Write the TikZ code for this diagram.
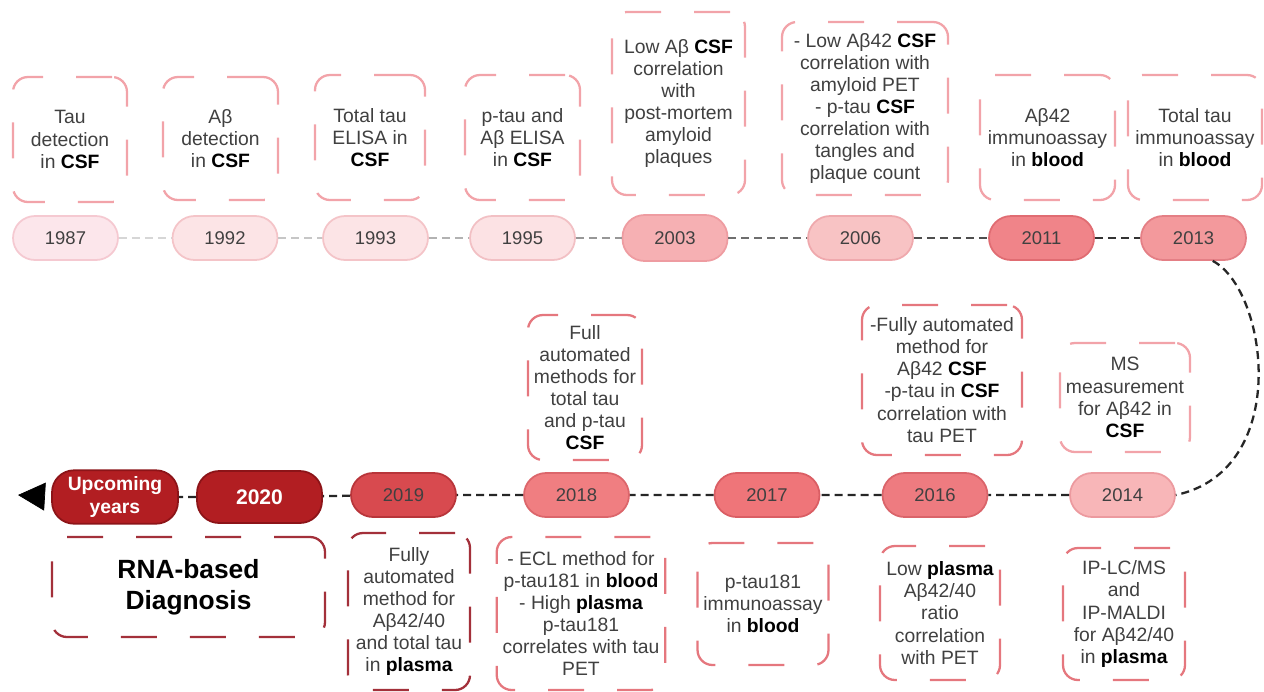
\documentclass[tikz,border=0pt]{standalone}
\usepackage{fontspec}
\setmainfont{Liberation Sans}
\usetikzlibrary{arrows.meta}
\definecolor{ink}{HTML}{404040}
\definecolor{boxpink}{HTML}{F2A3A9}
\definecolor{boxred}{HTML}{E5777E}
\definecolor{boxdark}{HTML}{A3303A}
% pill fills and rims
\definecolor{f1987}{HTML}{FCE6EB}\definecolor{r1987}{HTML}{F5C9D1}
\definecolor{f1992}{HTML}{FCE4E6}\definecolor{r1992}{HTML}{F4C4C8}
\definecolor{f1995}{HTML}{FCE2E4}\definecolor{r1995}{HTML}{F2C0C4}
\definecolor{f2003}{HTML}{F6B0B3}\definecolor{r2003}{HTML}{EE9CA1}
\definecolor{f2006}{HTML}{F8C3C4}\definecolor{r2006}{HTML}{EFA9AD}
\definecolor{f2011}{HTML}{F08489}\definecolor{r2011}{HTML}{E06C72}
\definecolor{f2013}{HTML}{F3999C}\definecolor{r2013}{HTML}{E47F85}
\definecolor{f2014}{HTML}{F8B6B8}\definecolor{r2014}{HTML}{EC9A9F}
\definecolor{f2016}{HTML}{EE7B80}\definecolor{r2016}{HTML}{DA646A}
\definecolor{f2017}{HTML}{EF7579}\definecolor{r2017}{HTML}{DA5E64}
\definecolor{f2018}{HTML}{F07E81}\definecolor{r2018}{HTML}{DC666B}
\definecolor{f2019}{HTML}{D84A4F}\definecolor{r2019}{HTML}{B8353A}
\definecolor{f2020}{HTML}{B21E22}\definecolor{r2020}{HTML}{8C1418}
% dashes of the time line
\definecolor{g1}{HTML}{D6D6D6}\definecolor{g2}{HTML}{C6C6C6}
\definecolor{g3}{HTML}{B2B2B2}\definecolor{g4}{HTML}{979797}
\definecolor{g5}{HTML}{6E6E6E}\definecolor{g6}{HTML}{4E4E4E}
\definecolor{g7}{HTML}{333333}\definecolor{g8}{HTML}{262626}
\newcommand{\bword}[1]{\textbf{\color{black}#1}}
\tikzset{
  pill/.style={draw=r#1, fill=f#1, line width=1pt, rounded corners=0.44cm,
    minimum width=2.1cm, minimum height=0.88cm, text=ink,
    font=\fontsize{10.5}{12}\selectfont},
  note/.style={draw=#1, line width=1.3pt, dash pattern=on 0.72cm off 0.66cm,
    rounded corners=0.3cm, align=center, text=ink,
    font=\fontsize{11}{12.6}\selectfont},
  sz/.style 2 args={minimum width=#1*0.02cm, minimum height=#2*0.02cm},
  link/.style={draw=#1, line width=1.3pt, dash pattern=on 0.16cm off 0.1cm}
}
\begin{document}
\begin{tikzpicture}[x=0.02cm, y=-0.02cm]
\useasboundingbox (0,0) rectangle (1264,691);
% years, first row
\node[pill=1987] (y1987) at (65.5,238) {1987};
\node[pill=1992] (y1992) at (225,238) {1992};
\node[pill=1992] (y1993) at (375.5,238) {1993};
\node[pill=1995] (y1995) at (522.5,238) {1995};
\node[pill=2003, minimum height=0.92cm] (y2003) at (675,238) {2003};
\node[pill=2006] (y2006) at (860.5,238) {2006};
\node[pill=2011] (y2011) at (1041.5,238) {2011};
\node[pill=2013] (y2013) at (1193.5,238) {2013};
% years, second row
\node[pill=2014] (y2014) at (1122.5,495) {2014};
\node[pill=2016] (y2016) at (935,495) {2016};
\node[pill=2017] (y2017) at (767,495) {2017};
\node[pill=2018] (y2018) at (576.5,495) {2018};
\node[pill=2019] (y2019) at (403.5,495) {2019};
\node[pill=2020, minimum width=2.5cm, minimum height=1.04cm,
  text=white, font=\fontsize{12}{13}\selectfont\bfseries] (y2020) at (259.5,497) {2020};
\node[pill=2020, minimum width=2.52cm, minimum height=1.04cm,
  text=white, align=center, font=\fontsize{11}{13.5}\selectfont\bfseries] (upc) at (115,497) {Upcoming\\years};
\coordinate (future) at (18,495);
% notes above the first row
\node[note=boxpink, sz={114}{125}] (n1987) at (70,139.5) {Tau\\detection\\in \bword{CSF}};
\node[note=boxpink, sz={115}{123}] (n1992) at (220.5,138.5) {Aβ\\detection\\in \bword{CSF}};
\node[note=boxpink, sz={110}{125}] (n1993) at (370,137.5) {Total tau\\ELISA in\\\bword{CSF}};
\node[note=boxpink, sz={115}{125}] (n1995) at (522.5,137.5) {p-tau and\\Aβ ELISA\\in \bword{CSF}};
\node[note=boxpink, sz={133}{183}] (n2003) at (678.5,103.5) {Low Aβ \bword{CSF}\\correlation\\with\\post-mortem\\amyloid\\plaques};
\node[note=boxpink, sz={166}{173}] (n2006) at (865,108.5) {- Low Aβ42 \bword{CSF}\\correlation with\\amyloid PET\\- p-tau \bword{CSF}\\correlation with\\tangles and\\plaque count};
\node[note=boxpink, sz={135}{125}] (n2011) at (1047.5,137.5) {Aβ42\\immunoassay\\in \bword{blood}};
\node[note=boxpink, sz={134}{125}] (n2013) at (1195,137.5) {Total tau\\immunoassay\\in \bword{blood}};
% notes around the second row
\node[note=boxred, sz={114}{145}] (a2018) at (585,387.5) {Full\\automated\\methods for\\total tau\\and p-tau\\\bword{CSF}};
\node[note=boxred, sz={160}{150}] (a2016) at (942,380) {-Fully automated\\method for\\Aβ42 \bword{CSF}\\-p-tau in \bword{CSF}\\correlation with\\tau PET};
\node[note=boxpink, sz={130}{109}] (a2014) at (1125,397.5) {MS\\measurement\\for Aβ42 in\\\bword{CSF}};
\node[note=boxdark, sz={273}{100}, font=\fontsize{15}{17.6}\selectfont\bfseries, text=black] (b2020) at (188.5,587) {RNA-based\\Diagnosis};
\node[note=boxdark, sz={122}{157}] (b2019) at (409,611.5) {Fully\\automated\\method for\\Aβ42/40\\and total tau\\in \bword{plasma}};
\node[note=boxred, sz={168}{153}] (b2018) at (581,613.5) {- ECL method for\\p-tau181 in \bword{blood}\\- High \bword{plasma}\\p-tau181\\correlates with tau\\PET};
\node[note=boxred, sz={130}{122}] (b2017) at (763,604) {p-tau181\\immunoassay\\in \bword{blood}};
\node[note=boxred, sz={120}{134}] (b2016) at (940,613) {Low \bword{plasma}\\Aβ42/40\\ratio\\correlation\\with PET};
\node[note=boxred, sz={122}{132}] (b2014) at (1124,614) {IP-LC/MS\\and\\IP-MALDI\\for Aβ42/40\\in \bword{plasma}};
% timeline
\draw[link=g1] (y1987) -- (y1992);
\draw[link=g2] (y1992) -- (y1993);
\draw[link=g3] (y1993) -- (y1995);
\draw[link=g4] (y1995) -- (y2003);
\draw[link=g5] (y2003) -- (y2006);
\draw[link=g6] (y2006) -- (y2011);
\draw[link=g7] (y2011) -- (y2013);
\draw[link=g8] (y2013.-50) .. controls (1268,290) and (1292,470) .. (y2014.east);
\draw[link=g8] (y2014) -- (y2016) -- (y2017) -- (y2018) -- (y2019) -- (y2020) -- (upc);
\draw[-{Triangle[length=0.54cm,width=0.56cm]}, shorten <=0.14cm] (upc.west) -- (future);
\end{tikzpicture}
\end{document}
